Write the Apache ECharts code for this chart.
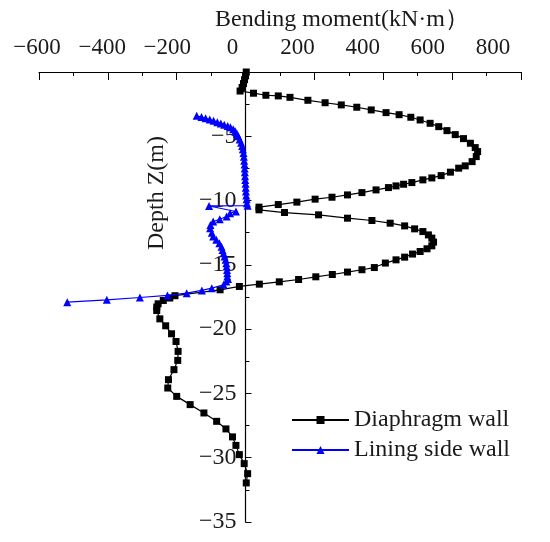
<!DOCTYPE html>
<html>
<head>
<meta charset="utf-8">
<script src="https://cdn.jsdelivr.net/npm/echarts@6/dist/echarts.min.js"></script>
<style>
  html, body { margin: 0; padding: 0; background: #fff; }
  #main { width: 550px; height: 542px; }
</style>
</head>
<body>
<div id="main"></div>
<script>
// Diaphragm wall: bending moment (kN·m) vs depth (m)
var dwDepth = [0, -0.3, -0.6, -0.9, -1.2, -1.48, -1.65, -1.81, -1.86, -1.97, -2.2, -2.39, -2.56, -2.74, -2.95,
    -3.16, -3.32, -3.52, -3.73, -3.99, -4.25, -4.56, -4.87, -5.18, -5.54, -5.88, -6.19, -6.58, -6.97, -7.3,
    -7.48, -7.79, -8.06, -8.24, -8.39, -8.6, -8.73, -8.86, -8.99, -9.17, -9.38, -9.56, -9.74, -9.89, -10.12,
    -10.31, -10.51, -10.72, -10.93, -11.11, -11.37, -11.55, -11.76, -11.97, -12.2, -12.41, -12.67, -12.92,
    -13.23, -13.52, -13.75, -13.96, -14.16, -14.4, -14.61, -14.86, -15.21, -15.38, -15.56, -15.75, -15.93,
    -16.14, -16.32, -16.5, -16.68, -16.94, -17.4, -17.58, -17.77, -18.03, -18.28, -18.55, -19.2, -19.74,
    -20.36, -20.96, -21.73, -22.43, -23.15, -23.93, -24.58, -25.23, -25.87, -26.52, -27.17, -27.76, -28.38,
    -29.04, -29.76, -30.46, -31.24, -31.96];
var dwMoment = [2, 0, -3, -6, -10, -16, 23, 59, 95, 129, 181, 231, 278, 323, 365,
    408, 446, 480, 507, 536, 561, 585, 609, 633, 653, 667, 674, 670, 658, 638,
    619, 595, 568, 541, 515, 483, 459, 437, 415, 379, 338, 296, 251, 202, 149,
    95, 39, 39, 113, 212, 296, 367, 420, 462, 491, 515, 531, 541,
    546, 541, 527, 507, 485, 462, 437, 406, 374, 338, 296, 252, 204,
    154, 98, 40, -18, -74, -205, -220, -239, -254, -258, -258, -249, -232,
    -215, -202, -196, -197, -208, -224, -226, -200, -161, -121, -84, -57, -38,
    -28, -18, -4, 6, 2];

// Lining side wall
var lwDepth = [-3.4, -3.5, -3.6, -3.7, -3.8, -3.9, -4.0, -4.1, -4.2, -4.3, -4.45, -4.6, -4.8, -5.0, -5.25,
    -5.5, -5.75, -6.0, -6.3, -6.6, -6.9, -7.2, -7.5, -7.8, -8.1, -8.4, -8.7, -9.0, -9.3, -9.6, -9.9, -10.2,
    -10.4, -10.42, -10.85, -10.98, -11.24, -11.45, -11.63, -11.9, -12.15, -12.5, -12.8, -13.05, -13.31,
    -13.6, -13.85, -14.09, -14.35, -14.6, -14.87, -15.13, -15.4, -15.65, -15.9, -16.1, -16.3, -16.55,
    -16.81, -16.99, -17.2, -17.38, -17.54, -17.72, -17.9];
var lwMoment = [-142, -128, -116, -104, -93, -82, -72, -62, -52, -44, -36, -30, -25, -21, -17,
    -13, -10, -8, -6, -5, -4, -3, -2.5, -2, -1.5, -1, 0, 0.5, 1, 2, 3, 4,
    6, -106, -28, -45, -55, -75, -94, -102, -103, -98, -94, -85, -76,
    -70, -67, -64, -61, -58, -56, -55, -54, -53, -53, -51, -56, -64,
    -98, -127, -171, -227, -307, -403, -518];

var xTicks = [-600, -400, -200, 0, 200, 400, 600, 800];
var yTicks = [-35, -30, -25, -20, -15, -10, -5, 0];

function pairs(xs, ys) {
    return xs.map(function (x, i) { return [x, ys[i]]; });
}
function minus(v) {
    return String(v).replace('-', '\u2212');
}

var font = 'Liberation Serif';
var ink = '#1a1a1a';
var plotTop = 72, plotBottom = 20;

var chart = echarts.init(document.getElementById('main'));

var option = {
    animation: false,
    backgroundColor: '#fff',
    title: {
        text: 'Bending moment(kN\u00b7m\uff09',
        left: 215,
        top: 8,
        padding: 0,
        textStyle: { fontFamily: font, fontSize: 24, fontWeight: 'normal', color: ink }
    },
    graphic: [{
        type: 'text',
        x: 157,
        y: 193,
        rotation: Math.PI / 2,
        style: {
            text: 'Depth Z(m)',
            font: '24px "Liberation Serif"',
            fill: ink,
            align: 'center',
            verticalAlign: 'middle'
        }
    }],
    legend: {
        orient: 'vertical',
        left: 291,
        top: 408,
        padding: 0,
        itemWidth: 57,
        itemHeight: 10,
        itemGap: 6,
        textStyle: { fontFamily: font, fontSize: 24, color: ink },
        data: ['Diaphragm wall', 'Lining side wall']
    },
    grid: [
        // data area
        { left: 39, right: 29, top: plotTop, bottom: plotBottom },
        // x tick labels
        { left: 37, right: 57, top: plotTop, bottom: plotBottom },
        // y axis standing at moment = 0
        { left: 245.5, right: 29, top: plotTop, bottom: plotBottom }
    ],
    xAxis: [{
        type: 'value',
        gridIndex: 0,
        position: 'top',
        min: xTicks[0],
        max: xTicks[xTicks.length - 1],
        interval: 200,
        axisLine: { show: true, onZero: false, lineStyle: { color: '#000', width: 1.2 } },
        axisTick: { show: true, inside: true, length: 8, lineStyle: { color: '#000' } },
        minorTick: { show: true, splitNumber: 2, length: 4, lineStyle: { color: '#000' } },
        axisLabel: { show: false },
        splitLine: { show: false }
    }, {
        type: 'value',
        gridIndex: 1,
        position: 'top',
        min: xTicks[0],
        max: xTicks[xTicks.length - 1],
        interval: 200,
        axisLine: { show: false },
        axisTick: { show: false },
        splitLine: { show: false },
        axisLabel: {
            margin: 13,
            fontFamily: font,
            fontSize: 23,
            color: ink,
            formatter: minus
        }
    }, {
        type: 'value',
        gridIndex: 2,
        min: 0,
        max: 1,
        show: false
    }],
    yAxis: [{
        type: 'value',
        gridIndex: 0,
        min: yTicks[0],
        max: 0,
        interval: 5,
        show: false
    }, {
        type: 'value',
        gridIndex: 1,
        min: 0,
        max: 1,
        show: false
    }, {
        type: 'value',
        gridIndex: 2,
        position: 'left',
        min: yTicks[0],
        max: 0,
        interval: 5,
        axisLine: { show: true, onZero: false, lineStyle: { color: '#000', width: 1.2 } },
        axisTick: { show: true, inside: true, length: 6, lineStyle: { color: '#000' } },
        minorTick: { show: true, splitNumber: 2, length: 4, lineStyle: { color: '#000' } },
        axisLabel: {
            margin: 9,
            fontFamily: font,
            fontSize: 24,
            color: ink,
            showMaxLabel: false,
            formatter: function (v) { return v === 0 ? '' : minus(v); }
        },
        splitLine: { show: false }
    }],
    series: [{
        name: 'Diaphragm wall',
        type: 'line',
        xAxisIndex: 0,
        yAxisIndex: 0,
        data: pairs(dwMoment, dwDepth),
        symbol: 'rect',
        symbolSize: 7,
        color: '#000',
        lineStyle: { color: '#000', width: 1.2 },
        itemStyle: { color: '#000' },
        z: 3
    }, {
        name: 'Lining side wall',
        type: 'line',
        xAxisIndex: 0,
        yAxisIndex: 0,
        data: pairs(lwMoment, lwDepth),
        symbol: 'triangle',
        symbolSize: 8,
        color: '#0000ff',
        lineStyle: { color: '#0000ff', width: 1.2 },
        itemStyle: { color: '#0000ff' },
        z: 4
    }]
};

chart.setOption(option);
</script>
</body>
</html>
